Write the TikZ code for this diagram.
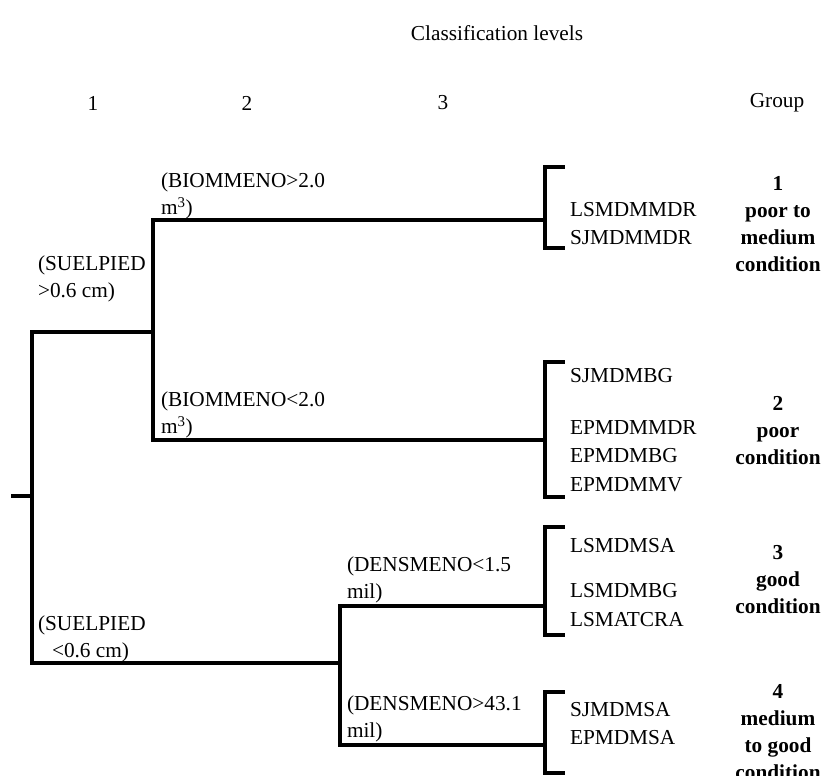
\documentclass[tikz,border=0pt]{standalone}
\usepackage{fontspec}
\setmainfont{Liberation Serif}
\begin{document}
\begin{tikzpicture}[x=1pt,y=-1pt,
  every node/.style={inner sep=0pt,outer sep=0pt},
  txt/.style={font=\fontsize{21.3}{27}\selectfont,anchor=west,align=left},
  hdr/.style={font=\fontsize{21.3}{27}\selectfont,anchor=center},
  grp/.style={font=\fontsize{21.3}{27}\selectfont\bfseries,anchor=center,align=center},
  tree/.style={line width=3.2pt,line cap=rect,line join=miter}]
\useasboundingbox (0,0) rectangle (825,776);

% headers
\node[hdr] (title) at (497,33) {Classification levels};
\node[hdr] (h1) at (93,103) {1};
\node[hdr] (h2) at (247,103) {2};
\node[hdr] (h3) at (443,103) {3};
\node[hdr] (hg) at (777,103) {Group};

% tree skeleton coordinates
\coordinate (root) at (13,496);
\coordinate (r) at (32,496);
\coordinate (rt) at (32,332);
\coordinate (rb) at (32,663);
\coordinate (n2) at (153,332);
\coordinate (n2t) at (153,220);
\coordinate (n2b) at (153,440);
\coordinate (n3) at (340,663);
\coordinate (n3t) at (340,606);
\coordinate (n3b) at (340,745);

\coordinate (b1) at (545,220);
\coordinate (b2) at (545,440);
\coordinate (b3) at (545,606);
\coordinate (b4) at (545,745);

\draw[tree] (root) -- (r);
\draw[tree] (rt) -- (rb);
\draw[tree] (rt) -- (n2);
\draw[tree] (n2t) -- (n2b);
\draw[tree] (n2t) -- (b1);
\draw[tree] (n2b) -- (b2);
\draw[tree] (rb) -- (n3);
\draw[tree] (n3t) -- (n3b);
\draw[tree] (n3t) -- (b3);
\draw[tree] (n3b) -- (b4);

% brackets
\draw[tree] (563,167) -- (545,167) -- (545,248) -- (563,248);
\draw[tree] (563,362) -- (545,362) -- (545,497) -- (563,497);
\draw[tree] (563,527) -- (545,527) -- (545,635) -- (563,635);
\draw[tree] (563,692) -- (545,692) -- (545,773) -- (563,773);

% split labels
\node[txt] (l1a) at (38,279) {(SUELPIED\\>0.6 cm)};
\node[txt] (l1b) at (38,639) {(SUELPIED\\\hspace*{14pt}<0.6 cm)};
\node[txt] (l2a) at (161,196) {(BIOMMENO>2.0\\m\textsuperscript{3})};
\node[txt] (l2b) at (161,415) {(BIOMMENO<2.0\\m\textsuperscript{3})};
\node[txt] (l3a) at (347,580) {(DENSMENO<1.5\\mil)};
\node[txt] (l3b) at (347,719) {(DENSMENO>43.1\\mil)};

% species
\node[txt] (s1) at (570,210) {LSMDMMDR};
\node[txt] (s2) at (570,238) {SJMDMMDR};
\node[txt] (s3) at (570,376) {SJMDMBG};
\node[txt] (s4) at (570,428) {EPMDMMDR};
\node[txt] (s5) at (570,456) {EPMDMBG};
\node[txt] (s6) at (570,485) {EPMDMMV};
\node[txt] (s7) at (570,546) {LSMDMSA};
\node[txt] (s8) at (570,591) {LSMDMBG};
\node[txt] (s9) at (570,620) {LSMATCRA};
\node[txt] (s10) at (570,710) {SJMDMSA};
\node[txt] (s11) at (570,738) {EPMDMSA};

% groups
\node[grp] (g1) at (778,224) {1\\poor to\\medium\\condition};
\node[grp] (g2) at (778,431) {2\\poor\\condition};
\node[grp] (g3) at (778,580) {3\\good\\condition};
\node[grp] (g4) at (778,732) {4\\medium\\to good\\condition};
\end{tikzpicture}
\end{document}
